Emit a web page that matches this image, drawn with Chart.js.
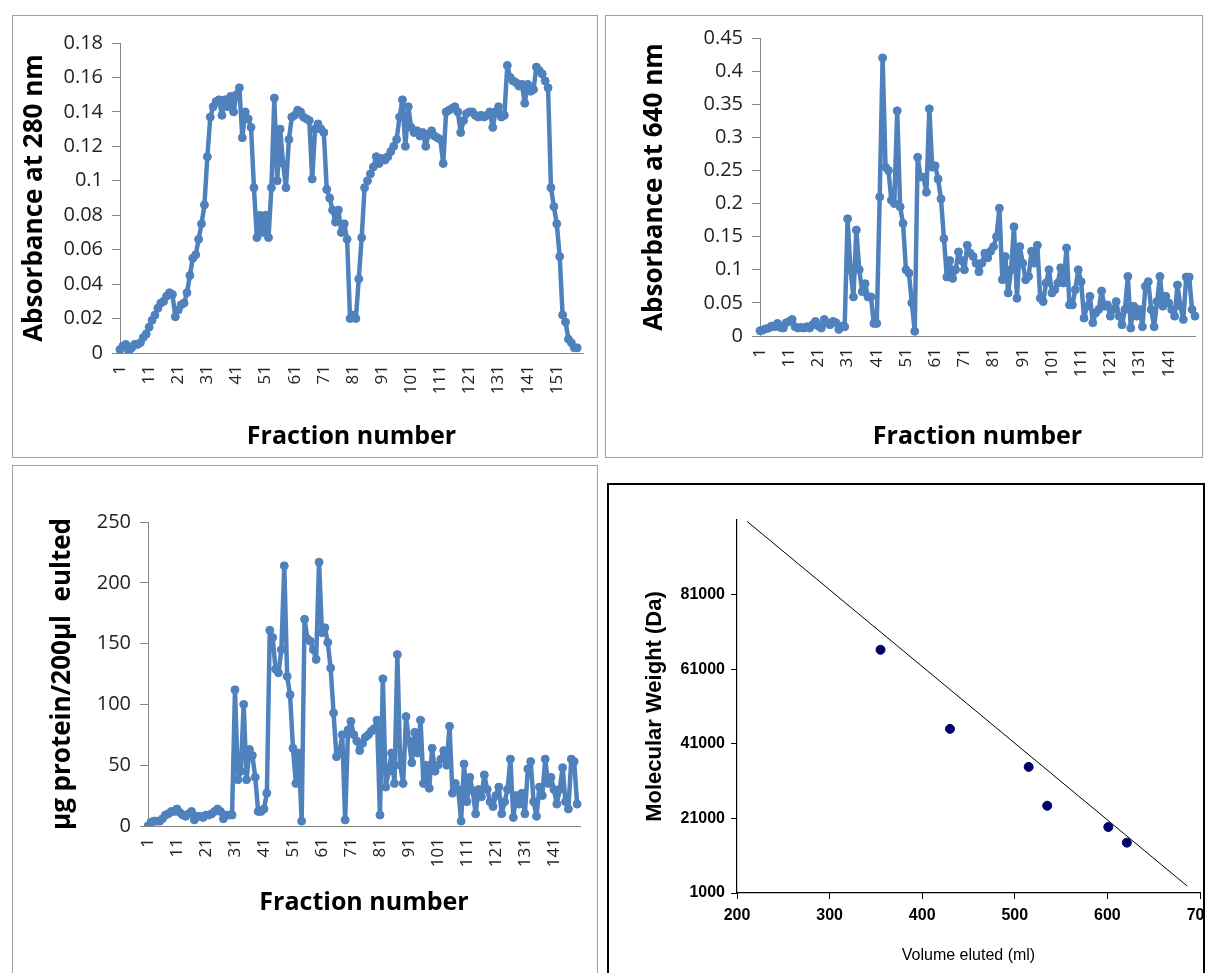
<!DOCTYPE html>
<html lang="en">
<head>
<meta charset="utf-8"/>
<title>Gel filtration fractions</title>
<script src="https://cdn.jsdelivr.net/npm/chart.js@4.4.3/dist/chart.umd.min.js"></script>
<style>
  body { margin: 0; background: #fff; width: 1205px; height: 973px; overflow: hidden; position: relative; }
  .panel { position: absolute; box-sizing: border-box; border: 1px solid #a0a0a0; overflow: hidden; background: #fff; }
  .panel canvas { position: absolute; left: 0; top: 0; }
  #p1 { left: 12px; top: 15px; width: 586px; height: 443px; }
  #p2 { left: 605px; top: 15px; width: 598px; height: 443px; }
  #p3 { left: 12px; top: 465px; width: 586px; height: 520px; }
  #p4 { left: 607px; top: 483px; width: 598px; height: 500px; border: 2px solid #000; }
</style>
</head>
<body>
<div class="panel" id="p1"><canvas id="c280" width="584" height="441"></canvas></div>
<div class="panel" id="p2"><canvas id="c640" width="596" height="441"></canvas></div>
<div class="panel" id="p3"><canvas id="cProt" width="584" height="518"></canvas></div>
<div class="panel" id="p4"><canvas id="cMw" width="630" height="490"></canvas></div>
<script>
// fraction labels for the three elution profiles
const fractions280 = Array.from({ length: 160 }, (_, i) => String(i + 1));
const fractions640 = Array.from({ length: 150 }, (_, i) => String(i + 1));
const fractionsProt = Array.from({ length: 150 }, (_, i) => String(i + 1));

// absorbance at 280 nm, fractions 1..158
const abs280 = [
  0.002, 0.004, 0.005, 0.001, 0.003, 0.005, 0.005, 0.006, 0.009, 0.011,
  0.015, 0.019, 0.022, 0.026, 0.029, 0.030, 0.033, 0.035, 0.034, 0.021,
  0.025, 0.028, 0.029, 0.035, 0.045, 0.055, 0.057, 0.066, 0.075, 0.086,
  0.114, 0.137, 0.143, 0.146, 0.147, 0.138, 0.147, 0.143, 0.149, 0.140,
  0.150, 0.154, 0.125, 0.140, 0.136, 0.131, 0.096, 0.067, 0.080, 0.070,
  0.080, 0.067, 0.096, 0.148, 0.100, 0.130, 0.110, 0.096, 0.124, 0.137,
  0.138, 0.141, 0.140, 0.137, 0.136, 0.135, 0.101, 0.130, 0.133, 0.130,
  0.128, 0.095, 0.090, 0.083, 0.076, 0.083, 0.070, 0.075, 0.066, 0.020,
  0.022, 0.020, 0.043, 0.067, 0.096, 0.100, 0.104, 0.108, 0.114, 0.110,
  0.113, 0.112, 0.114, 0.117, 0.120, 0.124, 0.137, 0.147, 0.120, 0.143,
  0.131, 0.128, 0.129, 0.126, 0.128, 0.120, 0.127, 0.129, 0.126, 0.125,
  0.124, 0.110, 0.140, 0.141, 0.142, 0.143, 0.140, 0.128, 0.135, 0.139,
  0.140, 0.140, 0.138, 0.137, 0.138, 0.137, 0.138, 0.140, 0.131, 0.140,
  0.143, 0.137, 0.138, 0.167, 0.160, 0.158, 0.157, 0.155, 0.156, 0.145,
  0.156, 0.152, 0.153, 0.166, 0.164, 0.162, 0.158, 0.154, 0.096, 0.085,
  0.075, 0.056, 0.022, 0.018, 0.008, 0.006, 0.003, 0.003
];

// absorbance at 640 nm, fractions 1..150
const abs640 = [
  0.008, 0.009, 0.011, 0.012, 0.015, 0.014, 0.019, 0.013, 0.012, 0.020,
  0.022, 0.025, 0.014, 0.012, 0.013, 0.012, 0.014, 0.012, 0.017, 0.022,
  0.015, 0.012, 0.025, 0.020, 0.017, 0.022, 0.020, 0.010, 0.015, 0.014,
  0.177, 0.100, 0.059, 0.160, 0.100, 0.067, 0.079, 0.059, 0.059, 0.019,
  0.019, 0.210, 0.420, 0.255, 0.250, 0.205, 0.200, 0.340, 0.195, 0.170,
  0.100, 0.095, 0.050, 0.007, 0.270, 0.240, 0.240, 0.217, 0.343, 0.255,
  0.257, 0.237, 0.207, 0.147, 0.089, 0.114, 0.087, 0.100, 0.127, 0.114,
  0.100, 0.137, 0.125, 0.120, 0.110, 0.097, 0.110, 0.125, 0.118, 0.128,
  0.135, 0.150, 0.193, 0.085, 0.120, 0.065, 0.100, 0.165, 0.057, 0.135,
  0.110, 0.085, 0.090, 0.128, 0.110, 0.137, 0.057, 0.052, 0.080, 0.100,
  0.065, 0.070, 0.080, 0.103, 0.080, 0.133, 0.047, 0.047, 0.070, 0.100,
  0.082, 0.027, 0.045, 0.060, 0.020, 0.035, 0.040, 0.068, 0.045, 0.047,
  0.030, 0.040, 0.052, 0.030, 0.017, 0.040, 0.090, 0.012, 0.045, 0.030,
  0.040, 0.014, 0.075, 0.082, 0.040, 0.014, 0.052, 0.090, 0.045, 0.060,
  0.050, 0.040, 0.030, 0.077, 0.045, 0.025, 0.089, 0.089, 0.040, 0.030
];

// µg protein per 200 µl, fractions 1..149
const protein = [
  0, 3, 4, 4, 4, 6, 9, 10, 12, 12,
  14, 11, 9, 8, 10, 12, 5, 8, 8, 7,
  9, 9, 10, 12, 14, 12, 6, 9, 9, 9,
  112, 38, 45, 100, 38, 63, 58, 40, 12, 12,
  14, 27, 161, 155, 129, 126, 145, 214, 123, 108,
  64, 35, 60, 4, 170, 154, 152, 145, 137, 217,
  159, 163, 151, 130, 93, 57, 60, 75, 5, 79,
  86, 75, 70, 62, 68, 73, 75, 78, 80, 87,
  9, 121, 32, 45, 60, 35, 141, 50, 35, 90,
  70, 52, 77, 60, 87, 35, 50, 31, 64, 45,
  50, 55, 62, 50, 82, 27, 35, 30, 4, 51,
  20, 40, 29, 10, 30, 24, 42, 30, 20, 16,
  25, 32, 10, 20, 30, 55, 7, 25, 18, 27,
  10, 47, 53, 20, 8, 32, 25, 55, 35, 40,
  30, 18, 30, 48, 20, 14, 55, 53, 18
];

// calibration: standards and the drawn line
const volume = [355, 430, 515, 535, 601, 621];
const molWeight = [66200, 45000, 34800, 24400, 18700, 14500];
const lineVolume = [211, 686];
const lineWeight = [100600, 2900];
const mwTicks = [1000, 21000, 41000, 61000, 81000];

Chart.defaults.font.family = "'Open Sans', sans-serif";
Chart.defaults.animation = false;
Chart.defaults.plugins.legend.display = false;
Chart.defaults.plugins.tooltip.enabled = false;

const BLUE = '#4f81bd';
const AXIS = '#868686';
const ARIAL = "'Liberation Sans', Arial, sans-serif";

function fractionChart(id, labels, values, yTitle, yMax, yStep, box) {
  return new Chart(document.getElementById(id), {
    type: 'line',
    data: {
      labels: labels,
      datasets: [{
        data: values,
        borderColor: BLUE,
        backgroundColor: BLUE,
        borderWidth: 4.5,
        borderJoinStyle: 'round',
        borderCapStyle: 'round',
        pointRadius: 4,
        pointBorderWidth: 1,
        tension: 0,
      }],
    },
    options: {
      responsive: false,
      layout: { padding: box.pad },
      scales: {
        x: {
          offset: false,
          afterBuildTicks: (s) => { s.ticks = s.ticks.filter(t => t.value % 10 === 0); },
          afterFit: (s) => { s.height = box.xh; },
          ticks: { autoSkip: false, minRotation: 90, maxRotation: 90, padding: 4, color: '#222', font: { size: 17 } },
          grid: { display: false, tickLength: 8 },
          border: { display: true, color: AXIS },
          title: { display: true, text: 'Fraction number', color: '#000', font: { size: 25, weight: 'bold' } },
        },
        y: {
          min: 0,
          max: yMax,
          afterFit: (s) => { s.width = box.yw; },
          ticks: { stepSize: yStep, padding: 9, color: '#222', font: { size: 20 },
                   callback: (v) => String(Math.round(v * 1000) / 1000) },
          grid: { display: true, drawOnChartArea: false, drawTicks: true, tickLength: 8, color: AXIS },
          border: { display: true, color: AXIS },
          title: { display: true, text: yTitle, color: '#000', font: { size: 26, weight: 'bold' } },
        },
      },
    },
  });
}

fractionChart('c280', fractions280, abs280, 'Absorbance at 280 nm', 0.18, 0.02,
  { pad: { left: 2, top: 27, right: 14, bottom: 1 }, yw: 105, xh: 103 });

fractionChart('c640', fractions640, abs640, 'Absorbance at 640 nm', 0.45, 0.05,
  { pad: { left: 29, top: 22, right: 7, bottom: 1 }, yw: 125, xh: 120 });

fractionChart('cProt', fractionsProt, protein, 'µg protein/200µl  eulted', 250, 50,
  { pad: { left: 30, top: 56, right: 17, bottom: 62 }, yw: 105, xh: 96 });

// Molecular weight calibration
new Chart(document.getElementById('cMw'), {
  type: 'scatter',
  data: {
    datasets: [
      {
        type: 'line',
        data: lineVolume.map((v, i) => ({ x: v, y: lineWeight[i] })),
        borderColor: '#000',
        borderWidth: 1,
        pointRadius: 0,
        clip: false,
      },
      {
        data: volume.map((v, i) => ({ x: v, y: molWeight[i] })),
        backgroundColor: '#000066',
        borderColor: '#000066',
        pointRadius: 4.5,
      },
    ],
  },
  options: {
    responsive: false,
    layout: { padding: { left: 29, top: 35, right: 39, bottom: 6 } },
    scales: {
      x: {
        type: 'linear',
        min: 200,
        max: 700,
        afterFit: (s) => { s.height = 76; },
        ticks: { stepSize: 100, padding: 7, color: '#000', font: { family: ARIAL, size: 16, weight: 'bold' },
                 callback: (v) => String(v) },
        grid: { display: true, drawOnChartArea: false, drawTicks: true, tickLength: 6, color: '#000' },
        border: { display: true, color: '#000', width: 1.2 },
        title: { display: true, text: 'Volume eluted (ml)', color: '#000', font: { family: ARIAL, size: 16 } },
      },
      y: {
        min: 1000,
        max: 101000,
        afterBuildTicks: (s) => { s.ticks = mwTicks.map(v => ({ value: v })); },
        afterFit: (s) => { s.width = 99; },
        ticks: { padding: 6, color: '#000', font: { family: ARIAL, size: 16, weight: 'bold' },
                 callback: (v) => String(v) },
        grid: { display: true, drawOnChartArea: false, drawTicks: true, tickLength: 6, color: '#000' },
        border: { display: true, color: '#000', width: 1.2 },
        title: { display: true, text: 'Molecular Weight (Da)', color: '#000', font: { family: ARIAL, size: 22, weight: 'bold' } },
      },
    },
  },
});
</script>
</body>
</html>
